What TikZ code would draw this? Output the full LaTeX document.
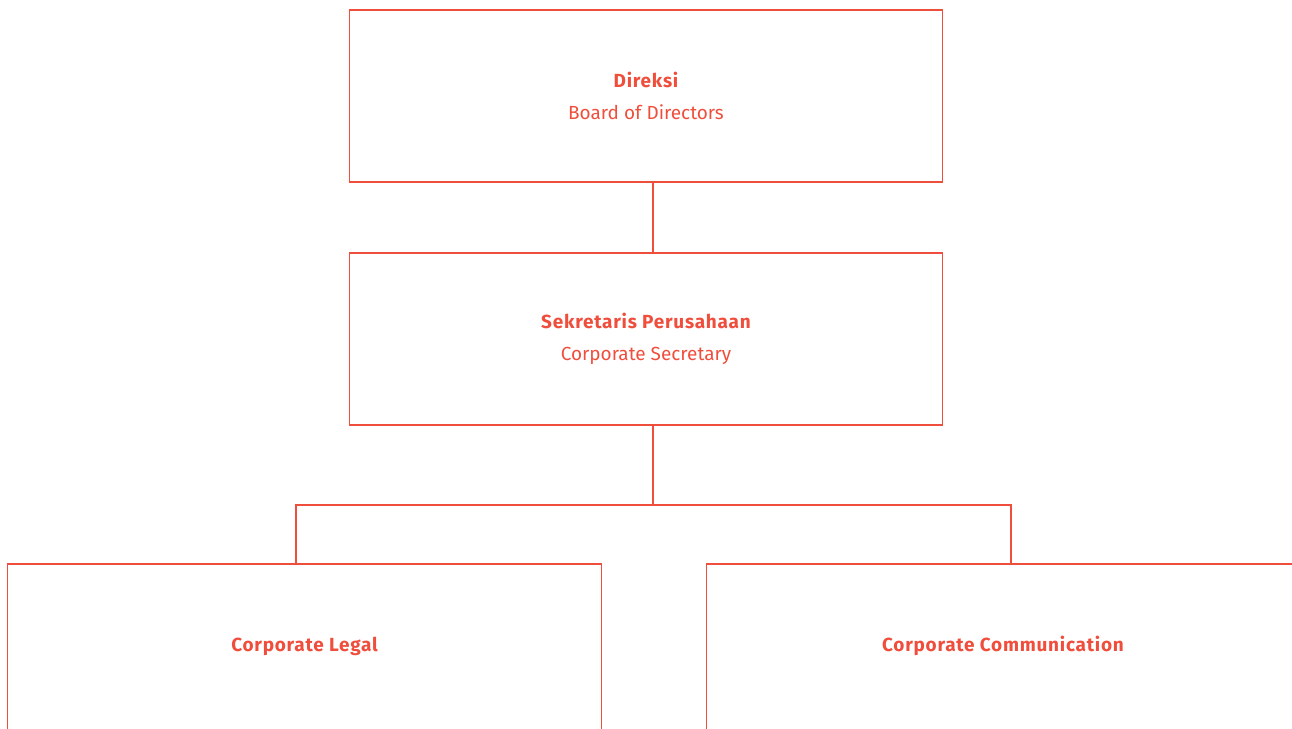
\documentclass[tikz,border=0pt]{standalone}
\usepackage{fontspec}
\setmainfont{Fira Sans}
\newfontfamily\headfont{Fira Sans}[LetterSpace=4]
\usepackage{xcolor}
\usetikzlibrary{positioning}
\definecolor{orgred}{RGB}{240,78,60}
\newcommand{\hd}[1]{{\headfont\bfseries #1}}

\begin{document}
\begin{tikzpicture}[x=0.02cm,y=-0.02cm,every node/.style={font=\fontsize{10.8}{18}\selectfont,text=orgred,align=center},unit/.style={draw=orgred,line width=0.6pt,rectangle,minimum width=11.88cm,minimum height=3.44cm,inner sep=0pt}]
\useasboundingbox (0,0) rectangle (1292,729);
\clip (0,0) rectangle (1292,729);
\node[unit] (dir) at (646,96) {\hd{Direksi}\\Board of Directors};
\node[unit] (sek) at (646,339) {\hd{Sekretaris Perusahaan}\\Corporate Secretary};
\node[unit] (leg) at (304.5,650) {\raisebox{7pt}{\hd{Corporate Legal}}};
\node[unit] (com) at (1003,650) {\raisebox{7pt}{\hd{Corporate Communication}}};
\coordinate (j) at (653,505);
\coordinate (jl) at (296,505);
\coordinate (jr) at (1011,505);
\draw[orgred,line width=0.6pt] (dir.south -| j)--(sek.north -| j);
\draw[orgred,line width=0.6pt] (sek.south -| j)--(j);
\draw[orgred,line width=0.6pt] (leg.north -| jl)--(jl)--(jr)--(com.north -| jr);
\end{tikzpicture}
\end{document}
